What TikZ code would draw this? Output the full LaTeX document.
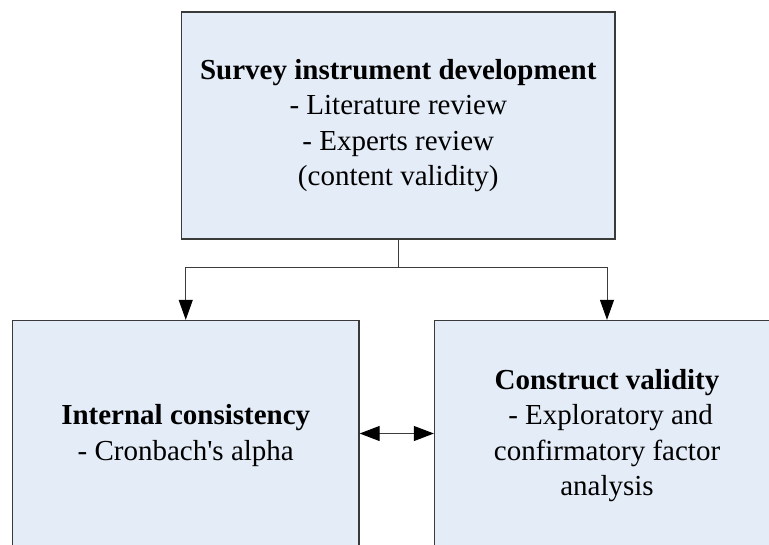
\documentclass[tikz,border=0pt]{standalone}
\usepackage{fontspec}
\setmainfont{Liberation Serif}
\usetikzlibrary{arrows.meta,calc}

\definecolor{boxfill}{HTML}{E4ECF7}
\definecolor{boxline}{HTML}{3A3A3A}
\definecolor{wire}{HTML}{3C3C3C}

\tikzset{
  stagebox/.style={draw=boxline, line width=1.3pt, fill=boxfill,
    align=center, inner sep=0pt,
    font=\fontsize{29}{35.5}\selectfont},
  flow/.style={draw=wire, line width=1pt,
    -{Triangle[length=20pt,width=14pt,black]}},
  link/.style={draw=wire, line width=1pt,
    {Triangle[length=20pt,width=15pt,black]}-{Triangle[length=20pt,width=15pt,black]}}
}

\begin{document}
\begin{tikzpicture}[x=1pt,y=-1pt]
  \useasboundingbox (0,0) rectangle (769,544);
  \clip (0,0) rectangle (769,544);

  % development stage
  \node[stagebox, minimum width=433.5pt, minimum height=227pt]
    (dev) at (398.25,125.5)
    {\textbf{Survey instrument development}\\
     - Literature review\\
     - Experts review\\
     (content validity)};

  % reliability stage
  \node[stagebox, minimum width=346.5pt, minimum height=230pt]
    (rel) at (185.75,435.5)
    {\textbf{Internal consistency}\\
     - Cronbach\textquotesingle s alpha};

  % validity stage
  \node[stagebox, minimum width=345pt, minimum height=230pt]
    (val) at (607,435.5)
    {\textbf{Construct validity}\\
     \ - Exploratory and\\
     confirmatory factor\\
     analysis};

  % branching connectors
  \coordinate (split) at ($(dev.south)+(0,28)$);
  \draw[draw=wire, line width=1pt] (dev.south) -- (split);
  \draw[flow] (split) -| (rel.north);
  \draw[flow] (split) -| (val.north);

  % two-way link between the lower stages
  \draw[link] ($(rel.east)+(0,-2)$) -- ($(val.west)+(0,-2)$);
\end{tikzpicture}
\end{document}
